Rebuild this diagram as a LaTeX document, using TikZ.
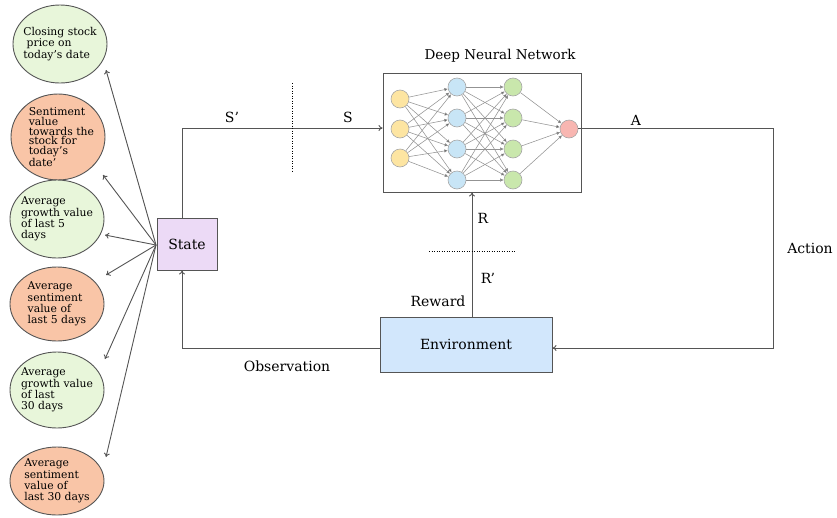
\documentclass[tikz,border=0pt]{standalone}
\usepackage{fontspec}
\setmainfont{DejaVu Serif}
\usetikzlibrary{arrows.meta,shapes.geometric}
\definecolor{egreen}{HTML}{E8F6DA}
\definecolor{eorange}{HTML}{F9C5A7}
\definecolor{statec}{HTML}{ECDAF6}
\definecolor{envc}{HTML}{D2E7FC}
\definecolor{ny}{HTML}{FDE5A2}
\definecolor{nb}{HTML}{C8E5F6}
\definecolor{ng}{HTML}{C9E7AC}
\definecolor{nr}{HTML}{F8B6B1}
\definecolor{linec}{HTML}{555555}
\tikzset{
  feat/.style={ellipse, draw=linec, line width=0.9pt, minimum width=#1, inner sep=-14pt, align=left, font=\fontsize{10.8}{11.2}\selectfont},
  featg/.style={feat=94pt, fill=egreen},
  feato/.style={feat=94pt, fill=eorange},
  boxs/.style={draw=linec, line width=1pt, font=\fontsize{14}{15}\selectfont},
  neur/.style={circle, draw=gray!70, line width=0.6pt, minimum size=18pt, inner sep=0pt},
  conn/.style={draw=linec, line width=0.9pt},
  arr/.style={conn, -{To[length=4pt,width=6pt]}},
  nnedge/.style={draw=gray!85, line width=0.55pt, -{Latex[length=3.5pt,width=3.5pt,fill=black!80]}},
  lbl/.style={font=\fontsize{14}{15}\selectfont, inner sep=0pt},
  dotl/.style={draw=black, line width=0.8pt, dash pattern=on 1pt off 1.5pt}
}
\begin{document}
\begin{tikzpicture}[x=1pt,y=-1pt]
\path[use as bounding box] (0,0) rectangle (837,517);

% feature ellipses
\node[featg, minimum height=78pt] (f1) at (60,44) {Closing stock\\\ price on\\today’s date};
\node[feato, minimum height=86pt, font=\fontsize{10.8}{9.8}\selectfont] (f2) at (58,137) {\ \ Sentiment\\\ \ value\\\ \ towards the\\\ \ stock for\\\ \ today’s\\\ \ date’};
\node[featg, minimum height=78pt] (f3) at (57,219) {Average\\growth value\\of last 5\\days};
\node[feato, minimum height=74pt] (f4) at (57,304) {Average\\sentiment\\value of\\last 5 days};
\node[featg, minimum height=76pt] (f5) at (57,390) {Average\\growth value\\of last\\30 days};
\node[feato, minimum height=68pt] (f6) at (57,481) {Average\\sentiment\\value of\\last 30 days};

% state
\node[boxs, fill=statec, minimum width=60pt, minimum height=52pt] (state) at (187,244) {State};
\coordinate (src) at (156,245);
\coordinate (t1) at (106,70);
\coordinate (t2) at (103,175);
\coordinate (t3) at (105,235);
\coordinate (t4) at (106,275);
\coordinate (t5) at (105,359);
\coordinate (t6) at (106,457);
\foreach \t in {t1,t2,t3,t4,t5,t6} \draw[arr] (src) -- (\t);

% neural network
\node[draw=linec, line width=1pt, minimum width=198pt, minimum height=119pt] (nn) at (482,132.5) {};
\node[font=\fontsize{13.5}{15}\selectfont] (nntitle) at (500,56) {Deep Neural Network};
\foreach \i/\y in {1/99,2/129,3/158} \node[neur, fill=ny] (y\i) at (400,\y) {};
\foreach \i/\y in {1/87,2/118,3/149,4/180} \node[neur, fill=nb] (b\i) at (457,\y) {};
\foreach \i/\y in {1/87,2/118,3/149,4/180} \node[neur, fill=ng] (g\i) at (513,\y) {};
\node[neur, fill=nr] (r1) at (569,129) {};
\foreach \a in {1,2,3} \foreach \b in {1,2,3,4} \draw[nnedge] (y\a) -- (b\b);
\foreach \a in {1,2,3,4} \foreach \b in {1,2,3,4} \draw[nnedge] (b\a) -- (g\b);
\foreach \a in {1,2,3,4} \draw[nnedge] (g\a) -- (r1);

% environment
\node[boxs, fill=envc, minimum width=172pt, minimum height=55pt] (env) at (466,344.5) {Environment};

% S' -> S
\coordinate (c1) at (182,128);
\draw[arr] (state.north -| c1) -- (c1) -- (c1 -| nn.west);
\draw[dotl] (292,83) -- (292,173);
\node[lbl] (sp) at (232,117) {S’};
\node[lbl] (s) at (348,117) {S};

% action
\coordinate (a1) at (773,128);
\coordinate (a2) at (773,348);
\draw[arr] (r1.east |- a1) -- (a1) -- (a2) -- (a2 -| env.east);
\node[lbl] (alab) at (636,120) {A};
\node[lbl] (act) at (810,248) {Action};

% reward
\coordinate (rw) at (472,0);
\draw[arr] (env.north -| rw) -- (nn.south -| rw);
\draw[dotl] (429,251) -- (515,251);
\node[lbl] (rl) at (483,218) {R};
\node[lbl] (rpl) at (488,278) {R’};
\node[lbl] (rwl) at (438,301) {Reward};

% observation
\coordinate (o1) at (182,348);
\draw[arr] (env.west |- o1) -- (o1) -- (state.south -| o1);
\node[lbl] (obs) at (287,366) {Observation};
\end{tikzpicture}
\end{document}
